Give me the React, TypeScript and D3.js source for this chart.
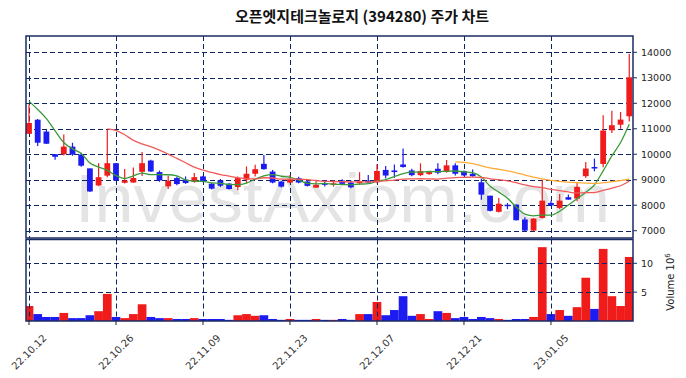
import React from "react";
import * as d3 from "d3";

const dates = [
  "22.10.12","22.10.13","22.10.14","22.10.17","22.10.18","22.10.19","22.10.20","22.10.21","22.10.24","22.10.25",
  "22.10.26","22.10.27","22.10.28","22.10.31","22.11.01","22.11.02","22.11.03","22.11.04","22.11.07","22.11.08",
  "22.11.09","22.11.10","22.11.11","22.11.14","22.11.15","22.11.16","22.11.17","22.11.18","22.11.21","22.11.22",
  "22.11.23","22.11.24","22.11.25","22.11.28","22.11.29","22.11.30","22.12.01","22.12.02","22.12.05","22.12.06",
  "22.12.07","22.12.08","22.12.09","22.12.12","22.12.13","22.12.14","22.12.15","22.12.16","22.12.19","22.12.20",
  "22.12.21","22.12.22","22.12.23","22.12.26","22.12.27","22.12.28","22.12.29","23.01.02","23.01.03","23.01.04",
  "23.01.05","23.01.06","23.01.09","23.01.10","23.01.11","23.01.12","23.01.13","23.01.16","23.01.17","23.01.18",
];

const opens = [
  10800,11355,10890,10000,10000,10300,9990,9445,8775,9160,
  9650,8880,8890,9310,9753,9300,8740,9065,9000,8920,
  9130,8845,8975,8845,8715,9000,9235,9625,9320,8930,
  8890,9060,8930,8690,8860,8810,8970,8890,8860,8970,
  8900,9385,9365,9600,9365,9180,9220,9430,9310,9565,
  9340,9235,8900,8375,7740,8020,8025,7440,7005,7500,
  8090,7895,8315,8260,9140,9500,9620,10940,11160,11490,
];
const highs = [
  11950,11380,10950,10000,10774,10450,10060,9445,9650,10950,
  9650,9420,9480,10090,9780,9360,9155,9130,9130,9260,
  9155,8870,9025,8870,9130,9520,9585,9975,9385,8950,
  9190,9120,9000,9000,8990,8970,9020,8970,9295,9190,
  9610,9540,9600,10225,9430,9645,9340,9645,9775,9645,
  9365,9405,9035,8375,8283,8085,8025,7530,7500,9000,
  8180,8445,8420,8900,9700,9830,11530,11710,11660,13935,
];
const lows = [
  10790,10323,10400,9780,9950,9940,9510,8515,8750,9100,
  8960,8850,8880,9150,9300,8920,8640,8780,8840,8880,
  8900,8620,8715,8620,8585,8870,9130,9390,8860,8700,
  8860,8860,8730,8690,8730,8730,8790,8665,8800,8840,
  8860,9060,9075,9470,9140,9140,9195,9220,9275,9170,
  9140,9115,8215,7755,7715,7845,7400,6980,6980,7475,
  7960,7855,8210,8155,9070,9330,9490,10835,11000,11290,
];
const closes = [
  11226,10452,10413,9900,10300,9990,9550,8540,9100,9650,
  8970,8970,9070,9650,9325,8975,8960,8830,8870,9100,
  8920,8650,8765,8635,9065,9235,9415,9415,8890,8730,
  9020,8890,8760,8800,8800,8860,8840,8705,8930,8890,
  9345,9165,9300,9500,9180,9340,9300,9275,9565,9235,
  9170,9140,8415,7780,8060,7980,7410,7005,7475,8180,
  7990,8180,8220,8720,9440,9440,10930,11140,11360,13020,
];
// volume, millions of shares
const volumes = [
  2.6,1.2,0.7,0.7,1.4,0.5,0.5,1.0,1.7,4.7,
  0.7,0.5,1.2,2.9,0.7,0.5,0.5,0.35,0.35,0.5,
  0.35,0.35,0.35,0.2,1.0,1.2,0.9,1.0,0.35,0.2,
  0.35,0.2,0.2,0.35,0.2,0.2,0.35,0.2,1.2,1.2,
  3.3,1.0,1.9,4.3,0.9,1.2,0.35,1.7,1.4,0.5,
  0.7,0.35,0.7,0.5,0.35,0.2,0.35,0.35,0.7,12.8,
  1.2,1.9,0.9,2.4,7.5,2.1,12.5,4.3,2.6,11.1,
];
// closes of the sessions before the visible window (needed for the moving averages)
const priorCloses = [10200,12400,13400,12500,11500,11600,12100,12200,12300,12600];

const priceTicks = [7000,8000,9000,10000,11000,12000,13000,14000];
const volumeTicks = [5,10];
const dateTickIndex = [0,10,20,30,40,50,60];
const maPeriods = [5,20,60];
const maColors = ["#3a9a3a","#f25a5a","#ffac38"];

const W = 686, H = 378;
const left = 26, right = 633;
const priceTop = 36, priceBottom = 238;
const volTop = 239.5, volBottom = 321;
const UP = "#f01c1c", DOWN = "#1c1cf0";
const GRID = "#0b2464";
const FRAME = "#1a2b63";

export default function App() {
  const x = d3.scaleLinear().domain([-0.345, 69.43]).range([left, right]);
  const y = d3.scaleLinear().domain([6714, 14640]).range([priceBottom, priceTop]);
  const yv = d3.scaleLinear().domain([0, 14.13]).range([volBottom, volTop]);
  const step = x(1) - x(0);
  const bodyW = 5.8;

  const all = priorCloses.concat(closes);
  const ma = (n: number) =>
    closes.map((_, i) => {
      const j = i + priorCloses.length;
      if (j < n - 1) return null;
      return d3.mean(all.slice(j - n + 1, j + 1)) as number;
    });
  const line = d3
    .line<number | null>()
    .defined((d) => d != null)
    .x((_, i) => x(i))
    .y((d) => y(d as number))
    .curve(d3.curveMonotoneX);

  const font = "'DejaVu Sans', sans-serif";

  return (
    <svg width={W} height={H} style={{ position: "absolute", left: 0, top: 0, background: "#fff" }}>
      <defs>
        <clipPath id="pclip">
          <rect x={left} y={priceTop} width={right - left} height={priceBottom - priceTop} />
        </clipPath>
        <clipPath id="vclip">
          <rect x={left} y={volTop} width={right - left} height={volBottom - volTop} />
        </clipPath>
      </defs>
      <text x={362} y={22} textAnchor="middle" fontFamily="'Noto Sans CJK KR', sans-serif" fontWeight="bold" fontSize={15} fill="#111">
        오픈엣지테크놀로지 (394280) 주가 차트
      </text>

      {/* watermark */}
      <text x={75} y={222} textLength={535} lengthAdjust="spacingAndGlyphs" fontFamily="'Liberation Sans', Arial, sans-serif" fontSize={68} fill="#e4e4e4">
        InvestAxiom.com
      </text>

      {/* volume bars */}
      <g clipPath="url(#vclip)">
        {volumes.map((v, i) => (
          <rect key={i} x={x(i) - step / 2} y={yv(v)} width={step} height={yv(0) - yv(v)} fill={closes[i] >= opens[i] ? UP : DOWN} />
        ))}
      </g>

      {/* grid */}
      <g stroke={GRID} strokeWidth={1} strokeDasharray="5,3" fill="none">
        {priceTicks.map((t) => (
          <line key={"p" + t} x1={left} x2={right} y1={Math.round(y(t)) + 0.5} y2={Math.round(y(t)) + 0.5} />
        ))}
        {volumeTicks.map((t) => (
          <line key={"v" + t} x1={left} x2={right} y1={Math.round(yv(t)) + 0.5} y2={Math.round(yv(t)) + 0.5} />
        ))}
        {dateTickIndex.map((i) => (
          <g key={"d" + i}>
            <line x1={Math.round(x(i)) + 0.5} x2={Math.round(x(i)) + 0.5} y1={priceTop} y2={priceBottom} />
            <line x1={Math.round(x(i)) + 0.5} x2={Math.round(x(i)) + 0.5} y1={volTop} y2={volBottom} />
          </g>
        ))}
      </g>

      {/* candles */}
      <g clipPath="url(#pclip)">
        {closes.map((c, i) => {
          const o = opens[i];
          const col = c >= o ? UP : DOWN;
          const top = y(Math.max(o, c));
          const bot = y(Math.min(o, c));
          return (
            <g key={i}>
              <line x1={x(i)} x2={x(i)} y1={y(highs[i])} y2={y(lows[i])} stroke={col} strokeWidth={1.2} />
              <rect x={x(i) - bodyW / 2} y={top} width={bodyW} height={Math.max(1.5, bot - top)} fill={col} />
            </g>
          );
        })}
        {maPeriods.map((n, k) => (
          <path key={n} d={line(ma(n)) || ""} fill="none" stroke={maColors[k]} strokeWidth={1.3} />
        ))}
      </g>

      {/* frames */}
      <rect x={left} y={priceTop} width={right - left} height={priceBottom - priceTop} fill="none" stroke={FRAME} strokeWidth={1.5} />
      <rect x={left} y={volTop} width={right - left} height={volBottom - volTop} fill="none" stroke={FRAME} strokeWidth={1.5} />

      {/* right axes */}
      <g fontFamily={font} fontSize={9.5} fill="#222">
        {priceTicks.map((t) => (
          <g key={t}>
            <line x1={right} x2={right + 4} y1={y(t)} y2={y(t)} stroke={FRAME} />
            <text x={641} y={y(t)} dominantBaseline="central">{t}</text>
          </g>
        ))}
        {volumeTicks.map((t) => (
          <g key={t}>
            <line x1={right} x2={right + 4} y1={yv(t)} y2={yv(t)} stroke={FRAME} />
            <text x={641} y={yv(t)} dominantBaseline="central">{t}</text>
          </g>
        ))}
        <text transform="translate(674,282) rotate(-90)" textAnchor="middle" fontSize={10}>
          Volume  10<tspan dy={-4} fontSize={7}>6</tspan>
        </text>
      </g>

      {/* x axis */}
      <g fontFamily={font} fontSize={10} fill="#333">
        {dateTickIndex.map((i) => (
          <g key={i}>
            <line x1={x(i)} x2={x(i)} y1={volBottom} y2={volBottom + 4} stroke="#222" />
            <text transform={`translate(${x(i)},352) rotate(-45)`} textAnchor="middle" dominantBaseline="central">
              {dates[i]}
            </text>
          </g>
        ))}
      </g>
    </svg>
  );
}
